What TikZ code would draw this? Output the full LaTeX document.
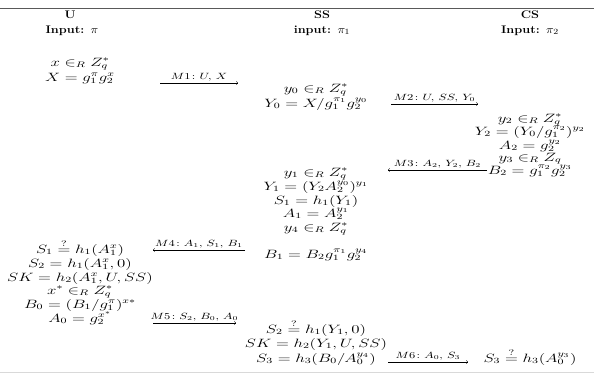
\documentclass[tikz,border=0pt]{standalone}
\usepackage{amsmath}
\usepackage{amssymb}
\usepackage{graphicx}
\usepackage{xcolor}
\usepackage{tikz}
\usetikzlibrary{arrows,positioning,calc}

% wide math, as set in the protocol figure
\newcommand{\mth}[1]{\scalebox{1.4}[1]{$#1$}}
\newcommand{\lbltxt}[1]{\scalebox{1.35}[1]{$#1$}}
\newcommand{\hdrtxt}[1]{\scalebox{1.15}[1]{#1}}

\begin{document}
\begin{tikzpicture}[
    hdr/.style={anchor=base, inner sep=0pt, font=\fontsize{11}{13}\selectfont\bfseries},
    eq/.style={anchor=base, inner sep=0pt, font=\fontsize{12}{14}\selectfont},
    lbl/.style={above, inner sep=1.5pt, font=\fontsize{8.6}{10}\selectfont},
    msg/.style={->, line width=0.4pt},
]
\useasboundingbox (0,0) rectangle (20.79,-13.125);

% Rules
\draw[black!65, line width=0.9pt] (0,-0.28) -- (20.79,-0.28);
\draw[black!15, line width=0.6pt] (0,-13.02) -- (20.79,-13.02);

% Header row
\node[hdr] (hu) at (2.45,-0.63) {\hdrtxt{U}};
\node[hdr] (hui) at (2.52,-1.155) {\hdrtxt{Input: $\pi$}};
\node[hdr] (hss) at (11.27,-0.63) {\hdrtxt{SS}};
\node[hdr] (hssi) at (11.27,-1.155) {\hdrtxt{input: $\pi_1$}};
\node[hdr] (hcs) at (18.55,-0.63) {\hdrtxt{CS}};
\node[hdr] (hcsi) at (18.55,-1.155) {\hdrtxt{Input: $\pi_2$}};

% U: first step
\node[eq] (u1) at (2.8,-2.31) {\mth{x \in_R Z_q^*}};
\node[eq] (u2) at (2.8,-2.835) {\mth{X = g_1^{\pi} g_2^{x}}};

% SS: first step
\node[eq] (s1) at (11.06,-3.22) {\mth{y_0 \in_R Z_q^*}};
\node[eq] (s2) at (11.06,-3.745) {\mth{Y_0 = X/g_1^{\pi_1} g_2^{y_0}}};

% CS
\node[eq] (c1) at (18.55,-4.27) {\mth{y_2 \in_R Z_q^*}};
\node[eq] (c2) at (18.55,-4.725) {\mth{Y_2 = (Y_0/g_1^{\pi_2})^{y_2}}};
\node[eq] (c3) at (18.55,-5.215) {\mth{A_2 = g_2^{y_2}}};
\node[eq] (c4) at (18.55,-5.635) {\mth{y_3 \in_R Z_q}};
\node[eq] (c5) at (18.55,-6.09) {\mth{B_2 = g_1^{\pi_2} g_2^{y_3}}};

% SS: second step
\node[eq] (s3) at (11.06,-6.16) {\mth{y_1 \in_R Z_q^*}};
\node[eq] (s4) at (11.06,-6.65) {\mth{Y_1 = (Y_2 A_2^{y_0})^{y_1}}};
\node[eq] (s5) at (11.06,-7.14) {\mth{S_1 = h_1(Y_1)}};
\node[eq] (s6) at (11.06,-7.595) {\mth{A_1 = A_2^{y_1}}};
\node[eq] (s7) at (11.06,-8.085) {\mth{y_4 \in_R Z_q^*}};
\node[eq] (s8) at (11.06,-9.03) {\mth{B_1 = B_2 g_1^{\pi_1} g_2^{y_4}}};

% U: second step
\node[eq] (u3) at (2.8,-8.855) {\mth{S_1 \stackrel{?}{=} h_1(A_1^x)}};
\node[eq] (u4) at (2.8,-9.345) {\mth{S_2 = h_1(A_1^x, 0)}};
\node[eq] (u5) at (2.8,-9.835) {\mth{SK = h_2(A_1^x, U, SS)}};
\node[eq] (u6) at (2.8,-10.29) {\mth{x^* \in_R Z_q^*}};
\node[eq] (u7) at (2.8,-10.78) {\mth{B_0 = (B_1/g_1^{\pi})^{x*}}};
\node[eq] (u8) at (2.8,-11.27) {\mth{A_0 = g_2^{x^*}}};

% SS: third step
\node[eq] (s9) at (11.06,-11.655) {\mth{S_2 \stackrel{?}{=} h_1(Y_1, 0)}};
\node[eq] (s10) at (11.06,-12.145) {\mth{SK = h_2(Y_1, U, SS)}};
\node[eq] (s11) at (11.06,-12.67) {\mth{S_3 = h_3(B_0/A_0^{y_4})}};

% CS: check
\node[eq] (c6) at (18.55,-12.67) {\mth{S_3 \stackrel{?}{=} h_3(A_0^{y_3})}};

% Messages
\coordinate (m1a) at (5.6,-2.905);   \coordinate (m1b) at (8.33,-2.905);
\coordinate (m2a) at (13.685,-3.64); \coordinate (m2b) at (16.73,-3.64);
\coordinate (m3a) at (17.045,-5.95); \coordinate (m3b) at (13.58,-5.95);
\coordinate (m4a) at (8.575,-8.75);  \coordinate (m4b) at (5.355,-8.75);
\coordinate (m5a) at (5.355,-11.305);\coordinate (m5b) at (8.26,-11.305);
\coordinate (m6a) at (13.58,-12.67); \coordinate (m6b) at (16.38,-12.67);

\draw[msg] (m1a) -- node[lbl] {\lbltxt{M1\colon U,\, X}} (m1b);
\draw[msg] (m2a) -- node[lbl] {\lbltxt{M2\colon U,\, SS,\, Y_0}} (m2b);
\draw[msg] (m3a) -- node[lbl] {\lbltxt{M3\colon A_2,\, Y_2,\, B_2}} (m3b);
\draw[msg] (m4a) -- node[lbl] {\lbltxt{M4\colon A_1,\, S_1,\, B_1}} (m4b);
\draw[msg] (m5a) -- node[lbl] {\lbltxt{M5\colon S_2,\, B_0,\, A_0}} (m5b);
\draw[msg] (m6a) -- node[lbl] {\lbltxt{M6\colon A_0,\, S_3}} (m6b);

\end{tikzpicture}
\end{document}
